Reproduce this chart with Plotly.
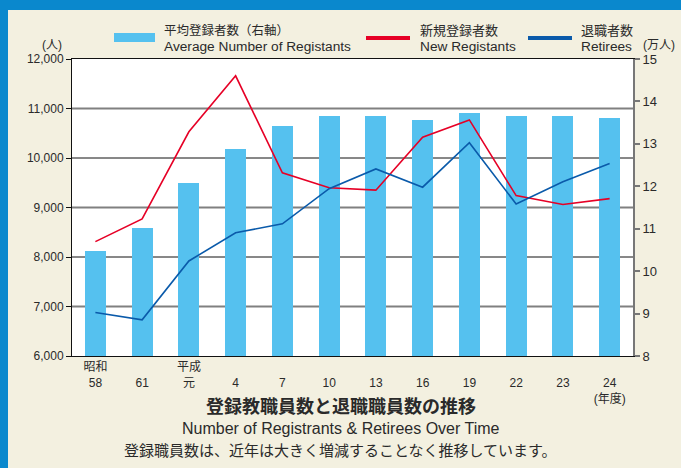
import plotly.graph_objects as go

# ---- data ----
categories = ["昭和58", "61", "平成元", "4", "7", "10", "13", "16", "19", "22", "23", "24"]
tick_labels = ["昭和<br>58", "\u00a0<br>61", "平成<br>元", "\u00a0<br>4", "\u00a0<br>7", "\u00a0<br>10",
               "\u00a0<br>13", "\u00a0<br>16", "\u00a0<br>19", "\u00a0<br>22", "\u00a0<br>23",
               "\u00a0<br>24<br>(年度)"]
avg_registrants = [10.47, 11.02, 12.08, 12.88, 13.42, 13.66, 13.66, 13.56, 13.73, 13.66, 13.66, 13.61]  # 万人
new_registrants = [8310, 8770, 10530, 11660, 9700, 9400, 9350, 10420, 10770, 9240, 9060, 9180]
retirees = [6880, 6730, 7920, 8490, 8670, 9380, 9780, 9410, 10310, 9070, 9520, 9890]
left_ticks = [6000, 7000, 8000, 9000, 10000, 11000, 12000]
right_ticks = [8, 9, 10, 11, 12, 13, 14, 15]

BAR = "#55C1EF"
RED = "#E60026"
BLUE = "#0A5AAA"
FRAME = "#0A88CD"
BEIGE = "#F3F0E0"
TXT = "#2a2a2a"
FONT = "Liberation Sans, Arial, Noto Sans CJK JP, sans-serif"

W, H = 681, 468
L, R, T, B = 72, 633, 59, 356


def px(x):
    return (x - L) / (R - L)


def py(y):
    return (B - y) / (B - T)


fig = go.Figure()
fig.add_trace(go.Bar(x=categories, y=avg_registrants, marker=dict(color=BAR, line=dict(width=0)),
                     width=0.45, yaxis="y", name="平均登録者数(右軸)", showlegend=False))
fig.add_trace(go.Scatter(x=categories, y=new_registrants, mode="lines", line=dict(color=RED, width=1.6),
                         yaxis="y2", name="新規登録者数", showlegend=False))
fig.add_trace(go.Scatter(x=categories, y=retirees, mode="lines", line=dict(color=BLUE, width=1.6),
                         yaxis="y2", name="退職者数", showlegend=False))

shapes = []
# gridlines from left-axis ticks, alternating grey / black
for i, v in enumerate(left_ticks[1:-1]):
    grey = (i % 2 == 0)
    shapes.append(dict(type="line", xref="paper", yref="y2", x0=0, x1=1, y0=v, y1=v, layer="below",
                       line=dict(color="#808080" if grey else "#111111", width=2 if grey else 1)))
# frame
shapes.append(dict(type="rect", xref="paper", yref="paper", x0=px(-10), x1=px(700), y0=py(10), y1=py(-10),
                   fillcolor=FRAME, line=dict(width=0), layer="below"))
shapes.append(dict(type="rect", xref="paper", yref="paper", x0=px(-10), x1=px(8), y0=py(480), y1=py(-10),
                   fillcolor=FRAME, line=dict(width=0), layer="below"))
# legend swatches
shapes.append(dict(type="rect", xref="paper", yref="paper", x0=px(114), x1=px(155), y0=py(42), y1=py(33),
                   fillcolor=BAR, line=dict(width=0)))
shapes.append(dict(type="line", xref="paper", yref="paper", x0=px(366), x1=px(410), y0=py(38), y1=py(38),
                   line=dict(color=RED, width=4)))
shapes.append(dict(type="line", xref="paper", yref="paper", x0=px(528), x1=px(572), y0=py(38), y1=py(38),
                   line=dict(color=BLUE, width=4)))

ann = []


def text(s, x, y, size=13, xanchor="left", yanchor="middle", color=TXT):
    ann.append(dict(text=s, x=px(x), y=py(y), xref="paper", yref="paper", showarrow=False,
                    xanchor=xanchor, yanchor=yanchor, font=dict(size=size, color=color, family=FONT)))


text("平均登録者数（右軸）", 162, 31, 12.5)
text("Average Number of Registants", 162, 46, 13.7)
text("新規登録者数", 418, 31, 13)
text("New Registants", 418, 46, 13.7)
text("退職者数", 579, 31, 13)
text("Retirees", 579, 46, 13.7)
text("(人)", 52, 45, 12, xanchor="center")
text("(万人)", 659, 45, 12, xanchor="center")
text("<b>登録教職員数と退職職員数の推移</b>", 340.5, 407, 18, xanchor="center")
text("Number of Registrants & Retirees Over Time", 340.5, 428, 16, xanchor="center")
text("登録職員数は、近年は大きく増減することなく推移しています。", 340.5, 450, 15, xanchor="center")

fig.update_layout(
    width=W, height=H,
    margin=dict(l=L, r=W - R, t=T, b=H - B, pad=0),
    paper_bgcolor=BEIGE, plot_bgcolor="white",
    font=dict(family=FONT, color=TXT, size=12),
    bargap=0,
    xaxis=dict(type="category", categoryorder="array", categoryarray=categories,
               tickmode="array", tickvals=categories, ticktext=tick_labels,
               showline=True, linecolor="#111111", linewidth=1, mirror=True,
               showgrid=False, ticks="", tickfont=dict(size=12, color=TXT), automargin=False,
               range=[-0.5, len(categories) - 0.5]),
    yaxis=dict(side="right", range=[8, 15], tickmode="array", tickvals=right_ticks,
               showgrid=False, zeroline=False, showline=True, linecolor="#777777", linewidth=2,
               ticks="outside", ticklen=5, tickcolor="#777777", tickwidth=1.5,
               tickfont=dict(size=13, color=TXT), automargin=False),
    yaxis2=dict(overlaying="y", side="left", range=[6000, 12000], tickmode="array", tickvals=left_ticks,
                tickformat=",d", showgrid=False, zeroline=False, showline=True, linecolor="#111111",
                linewidth=1, ticks="outside", ticklen=5, tickcolor="#111111", tickwidth=1,
                tickfont=dict(size=12, color=TXT), automargin=False),
    shapes=shapes, annotations=ann, showlegend=False,
)

fig.write_html("out.html", config={"displayModeBar": False},
               post_script="document.body.style.margin='0';document.body.style.overflow='hidden';")
